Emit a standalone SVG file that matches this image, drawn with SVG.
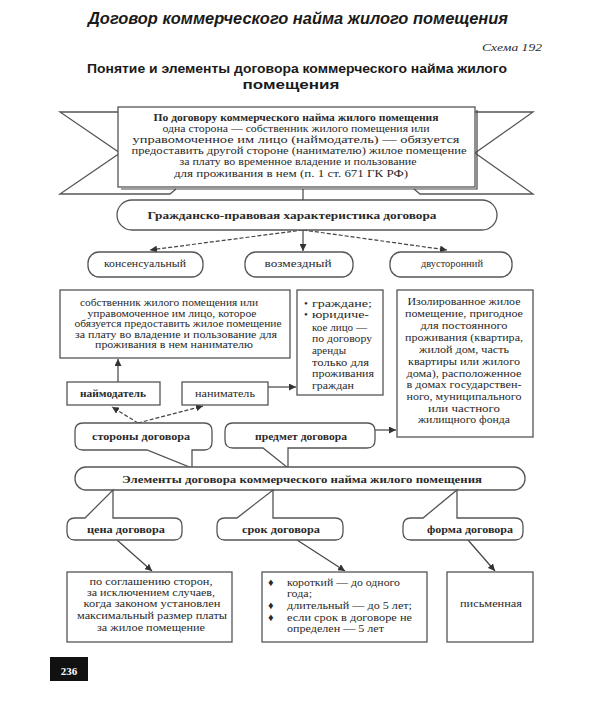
<svg xmlns="http://www.w3.org/2000/svg" width="605" height="707" viewBox="0 0 605 707">
<style>
.bg{fill:#fff}
.box{fill:#fff;stroke:#555;stroke-width:1.3}
.ln{fill:none;stroke:#444;stroke-width:1.2}
.dash{stroke-dasharray:4 2}
.t{font-family:'Liberation Serif','Times New Roman','DejaVu Serif',serif;font-size:11px;fill:#2a2a2a}
.b{font-weight:bold}
.m{text-anchor:middle}
.h{font-family:'Liberation Sans',Arial,'DejaVu Sans',sans-serif;font-weight:bold;fill:#1a1a1a}
</style>
<defs>
<marker id="ah" viewBox="0 0 10 10" refX="10" refY="5" markerWidth="7" markerHeight="7" markerUnits="userSpaceOnUse" orient="auto">
<path d="M0,0 L10,5 L0,10 Z" fill="#333"/>
</marker>
</defs>
<rect class="bg" x="0" y="0" width="605" height="707"/>

<g id="header">
<text class="h" x="88" y="24" font-size="17" font-style="italic" textLength="420" lengthAdjust="spacingAndGlyphs">Договор коммерческого найма жилого помещения</text>
<text class="t" x="482" y="51" font-size="12" font-style="italic" font-family="Liberation Serif, serif" textLength="60" lengthAdjust="spacingAndGlyphs">Схема 192</text>
<text class="h" x="87" y="73" font-size="13" textLength="420" lengthAdjust="spacingAndGlyphs">Понятие и элементы договора коммерческого найма жилого</text>
<text class="h m" x="291" y="89" font-size="13" textLength="97" lengthAdjust="spacingAndGlyphs">помещения</text>
</g>

<g id="connectors">
<line class="ln" x1="303" y1="189" x2="303" y2="200"/>
<line class="ln dash" x1="303" y1="230" x2="150" y2="250" marker-end="url(#ah)"/>
<line class="ln" x1="303" y1="230" x2="303" y2="251" marker-end="url(#ah)"/>
<line class="ln dash" x1="303" y1="230" x2="447" y2="250" marker-end="url(#ah)"/>
<line class="ln" x1="118" y1="382" x2="118" y2="359" marker-end="url(#ah)"/>
<line class="ln" x1="268" y1="387" x2="296" y2="387" marker-end="url(#ah)"/>
<line class="ln dash" x1="138" y1="423" x2="112" y2="407" marker-end="url(#ah)"/>
<line class="ln dash" x1="138" y1="423" x2="203" y2="406" marker-end="url(#ah)"/>
<line class="ln" x1="375" y1="430" x2="396" y2="430" marker-end="url(#ah)"/>
<line class="ln" x1="117" y1="540" x2="152" y2="571" marker-end="url(#ah)"/>
<line class="ln" x1="297" y1="540" x2="345" y2="571" marker-end="url(#ah)"/>
<line class="ln" x1="468" y1="540" x2="495" y2="571" marker-end="url(#ah)"/>
</g>

<g font-family="Liberation Serif, Times New Roman, serif">
<g id="definition">
<polyline class="box" points="118,112 60,112 120,153 60,194 170,194 176,189"/>
<polyline class="box" points="475,112 533,112 475,153 533,194 420,194 414,189"/>
<polyline class="ln" points="121,189 477,189 477,110"/>
<rect class="box" x="118" y="107" width="357" height="80"/>
<text class="t b m" x="296" y="121" textLength="285" lengthAdjust="spacingAndGlyphs">По договору коммерческого найма жилого помещения</text>
<text class="t m" x="296" y="132" textLength="267" lengthAdjust="spacingAndGlyphs">одна сторона — собственник жилого помещения или</text>
<text class="t m" x="296" y="143" textLength="327" lengthAdjust="spacingAndGlyphs">управомоченное им лицо (наймодатель) — обязуется</text>
<text class="t m" x="299" y="154" textLength="335" lengthAdjust="spacingAndGlyphs">предоставить другой стороне (нанимателю) жилое помещение</text>
<text class="t m" x="298" y="165" textLength="237" lengthAdjust="spacingAndGlyphs">за плату во временное владение и пользование</text>
<text class="t m" x="291" y="177" textLength="234" lengthAdjust="spacingAndGlyphs">для проживания в нем (п. 1 ст. 671 ГК РФ)</text>
</g>

<g id="characteristic">
<rect class="box" x="117" y="200" width="380" height="30" rx="15"/>
<text class="t b m" x="292" y="219" textLength="289" lengthAdjust="spacingAndGlyphs">Гражданско-правовая характеристика договора</text>
</g>
<g id="consensual">
<rect class="box" x="88" y="252" width="115" height="25" rx="11"/>
<text class="t m" x="145" y="267" textLength="82" lengthAdjust="spacingAndGlyphs">консенсуальный</text>
</g>
<g id="paid">
<rect class="box" x="245" y="252" width="108" height="25" rx="11"/>
<text class="t m" x="298" y="267" textLength="67" lengthAdjust="spacingAndGlyphs">возмездный</text>
</g>
<g id="bilateral">
<rect class="box" x="390" y="252" width="122" height="25" rx="11"/>
<text class="t m" x="452" y="267" textLength="62" lengthAdjust="spacingAndGlyphs">двусторонний</text>
</g>

<g id="landlord-def">
<rect class="box" x="60" y="290" width="230" height="68"/>
<text class="t m" x="169" y="306" textLength="178" lengthAdjust="spacingAndGlyphs">собственник жилого помещения или</text>
<text class="t m" x="172" y="316.5" textLength="169" lengthAdjust="spacingAndGlyphs">управомоченное им лицо, которое</text>
<text class="t m" x="178" y="327" textLength="207" lengthAdjust="spacingAndGlyphs">обязуется предоставить жилое помещение</text>
<text class="t m" x="176" y="337.5" textLength="202" lengthAdjust="spacingAndGlyphs">за плату во владение и пользование для</text>
<text class="t m" x="174" y="348" textLength="158" lengthAdjust="spacingAndGlyphs">проживания в нем нанимателю</text>
</g>

<g id="tenant-def">
<rect class="box" x="297" y="290" width="86" height="105"/>
<text class="t" x="304" y="307">•</text>
<text class="t" x="312" y="307" textLength="60" lengthAdjust="spacingAndGlyphs">граждане;</text>
<text class="t" x="304" y="318">•</text>
<text class="t" x="312" y="318" textLength="57" lengthAdjust="spacingAndGlyphs">юридиче-</text>
<text class="t" x="312" y="331" textLength="55" lengthAdjust="spacingAndGlyphs">кое лицо —</text>
<text class="t" x="312" y="342" textLength="60" lengthAdjust="spacingAndGlyphs">по договору</text>
<text class="t" x="312" y="354" textLength="34" lengthAdjust="spacingAndGlyphs">аренды</text>
<text class="t" x="312" y="366" textLength="57" lengthAdjust="spacingAndGlyphs">только для</text>
<text class="t" x="312" y="377" textLength="62" lengthAdjust="spacingAndGlyphs">проживания</text>
<text class="t" x="312" y="389" textLength="42" lengthAdjust="spacingAndGlyphs">граждан</text>
</g>

<g id="subject-def">
<rect class="box" x="397" y="290" width="136" height="147"/>
<text class="t m" x="464" y="305" textLength="113" lengthAdjust="spacingAndGlyphs">Изолированное жилое</text>
<text class="t m" x="464" y="317" textLength="118" lengthAdjust="spacingAndGlyphs">помещение, пригодное</text>
<text class="t m" x="464" y="329" textLength="87" lengthAdjust="spacingAndGlyphs">для постоянного</text>
<text class="t m" x="464" y="341" textLength="118" lengthAdjust="spacingAndGlyphs">проживания (квартира,</text>
<text class="t m" x="464" y="353" textLength="90" lengthAdjust="spacingAndGlyphs">жилой дом, часть</text>
<text class="t m" x="464" y="365" textLength="112" lengthAdjust="spacingAndGlyphs">квартиры или жилого</text>
<text class="t m" x="464" y="377" textLength="115" lengthAdjust="spacingAndGlyphs">дома), расположенное</text>
<text class="t m" x="464" y="388" textLength="115" lengthAdjust="spacingAndGlyphs">в домах государствен-</text>
<text class="t m" x="464" y="400" textLength="115" lengthAdjust="spacingAndGlyphs">ного, муниципального</text>
<text class="t m" x="464" y="412" textLength="72" lengthAdjust="spacingAndGlyphs">или частного</text>
<text class="t m" x="464" y="423" textLength="92" lengthAdjust="spacingAndGlyphs">жилищного фонда</text>
</g>

<g id="landlord">
<rect class="box" x="67" y="382" width="93" height="23"/>
<text class="t b m" x="113" y="397" font-size="10" textLength="66" lengthAdjust="spacingAndGlyphs">наймодатель</text>
</g>
<g id="tenant">
<rect class="box" x="182" y="382" width="86" height="23"/>
<text class="t m" x="225" y="397" font-size="10" textLength="60" lengthAdjust="spacingAndGlyphs">наниматель</text>
</g>

<g id="parties">
<path class="box" d="M83,423 H204 Q212,423 212,431 V442 Q212,450 204,450 H192 V468 L147,450 H83 Q75,450 75,442 V431 Q75,423 83,423 Z"/>
<text class="t b m" x="141" y="440" textLength="98" lengthAdjust="spacingAndGlyphs">стороны  договора</text>
</g>
<g id="subject">
<path class="box" d="M233,423 H367 Q375,423 375,431 V440 Q375,448 367,448 H288 V468 L263,448 H233 Q225,448 225,440 V431 Q225,423 233,423 Z"/>
<text class="t b m" x="301" y="440" textLength="92" lengthAdjust="spacingAndGlyphs">предмет  договора</text>
</g>

<g id="elements">
<rect class="box" x="75" y="467" width="450" height="23" rx="11"/>
<text class="t b m" x="302" y="483" textLength="360" lengthAdjust="spacingAndGlyphs">Элементы договора коммерческого найма жилого помещения</text>
</g>

<g id="price">
<path class="box" d="M75,518 H85 L113,490 V518 H174 Q182,518 182,526 V532 Q182,540 174,540 H75 Q67,540 67,532 V526 Q67,518 75,518 Z"/>
<text class="t b m" x="126" y="533" font-size="10.5" textLength="78" lengthAdjust="spacingAndGlyphs">цена  договора</text>
</g>
<g id="term">
<path class="box" d="M225,518 H237 L273,490 V518 H335 Q343,518 343,526 V532 Q343,540 335,540 H225 Q217,540 217,532 V526 Q217,518 225,518 Z"/>
<text class="t b m" x="281" y="533" font-size="10.5" textLength="78" lengthAdjust="spacingAndGlyphs">срок  договора</text>
</g>
<g id="form">
<path class="box" d="M411,518 H423 L457,490 V518 H515 Q523,518 523,526 V532 Q523,540 515,540 H411 Q403,540 403,532 V526 Q403,518 411,518 Z"/>
<text class="t b m" x="470" y="533" font-size="10.5" textLength="86" lengthAdjust="spacingAndGlyphs">форма  договора</text>
</g>

<g id="price-def">
<rect class="box" x="67" y="572" width="165" height="70"/>
<text class="t m" x="151" y="585" textLength="123" lengthAdjust="spacingAndGlyphs">по соглашению сторон,</text>
<text class="t m" x="151" y="596" textLength="128" lengthAdjust="spacingAndGlyphs">за исключением случаев,</text>
<text class="t m" x="152" y="607" textLength="137" lengthAdjust="spacingAndGlyphs">когда законом установлен</text>
<text class="t m" x="152" y="619" textLength="150" lengthAdjust="spacingAndGlyphs">максимальный размер платы</text>
<text class="t m" x="151" y="631" textLength="108" lengthAdjust="spacingAndGlyphs">за жилое помещение</text>
</g>

<g id="term-def">
<rect class="box" x="262" y="572" width="165" height="70"/>
<text class="t" x="268" y="586" font-size="9">♦</text>
<text class="t" x="287" y="586" textLength="113" lengthAdjust="spacingAndGlyphs">короткий —  до одного</text>
<text class="t" x="287" y="597" textLength="25" lengthAdjust="spacingAndGlyphs">года;</text>
<text class="t" x="268" y="609" font-size="9">♦</text>
<text class="t" x="287" y="609" textLength="125" lengthAdjust="spacingAndGlyphs">длительный —  до 5 лет;</text>
<text class="t" x="268" y="621" font-size="9">♦</text>
<text class="t" x="287" y="621" textLength="125" lengthAdjust="spacingAndGlyphs">если срок в договоре не</text>
<text class="t" x="287" y="632" textLength="97" lengthAdjust="spacingAndGlyphs">определен — 5  лет</text>
</g>

<g id="form-def">
<rect class="box" x="447" y="572" width="86" height="70"/>
<text class="t m" x="491" y="607" font-size="10" textLength="62" lengthAdjust="spacingAndGlyphs">письменная</text>
</g>

<g id="page">
<rect x="50" y="657" width="38" height="24" fill="#111"/>
<text class="t b m" x="69" y="675" font-size="15" style="fill:#fff">236</text>
</g>
</g>
</svg>
